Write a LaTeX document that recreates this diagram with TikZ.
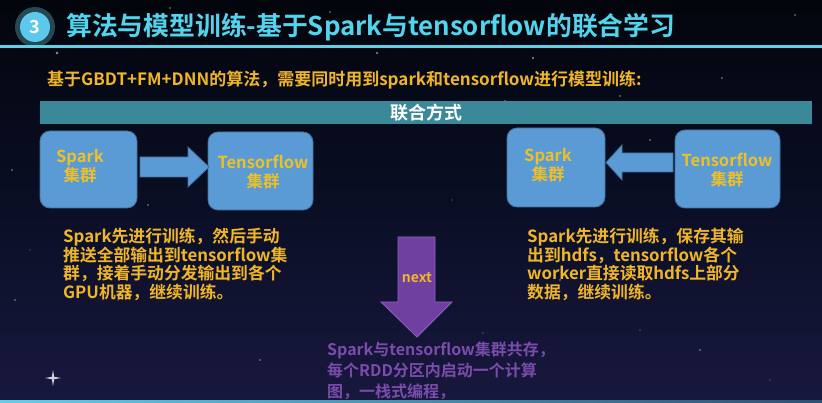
\documentclass[tikz,border=0pt]{standalone}
\usepackage{fontspec}
\setmainfont{Noto Sans CJK SC}[BoldFont={Noto Sans CJK SC Bold}]
\definecolor{bgtop}{RGB}{3,5,12}
\definecolor{bgmid}{RGB}{10,14,36}
\definecolor{bgbot}{RGB}{24,24,62}
\definecolor{titlecyan}{RGB}{82,212,236}
\definecolor{linecyan}{RGB}{96,208,230}
\definecolor{ringteal}{RGB}{38,72,82}
\definecolor{circcyan}{RGB}{92,200,236}
\definecolor{gold}{RGB}{240,182,40}
\definecolor{barteal}{RGB}{58,136,152}
\definecolor{boxblue}{RGB}{91,155,213}
\definecolor{boxedge}{RGB}{65,113,156}
\definecolor{boxyellow}{RGB}{236,192,40}
\definecolor{arrowpurple}{RGB}{112,64,160}
\definecolor{arrowedge}{RGB}{140,96,196}
\definecolor{textpurple}{RGB}{122,76,172}
\tikzset{
  boxnode/.style={draw=boxedge, line width=0.8pt, fill=boxblue, rounded corners=10pt, inner sep=0pt},
  boxtxt/.style={text=boxyellow, font=\bfseries\fontsize{16.5}{19.5}\selectfont, align=center, inner sep=0pt},
  para/.style={text=gold, font=\bfseries\fontsize{16.8}{18.6}\selectfont, align=left, anchor=north west, inner sep=0pt},
  blockarrow/.style={fill=boxblue, draw=boxedge, line width=0.8pt},
  star/.style={fill=white, opacity=0.55},
}
\begin{document}
\begin{tikzpicture}[x=1pt,y=-1pt]
\useasboundingbox (0,0) rectangle (822,403);
% background
\shade[top color=bgtop, bottom color=bgmid] (0,0) rectangle (822,200);
\shade[top color=bgmid, bottom color=bgbot] (0,200) rectangle (822,403);
% stars
\foreach \sx/\sy/\sr in {57/53/1.3, 170/8/0.8, 330/12/0.8, 533/58/1.2, 505/101/0.9, 620/96/0.8, 722/78/0.9, 377/53/1.1, 650/140/0.8, 12/170/0.9, 148/205/0.8, 452/200/0.7, 15/300/0.8, 118/300/0.7, 560/280/0.8, 640/330/0.7, 700/350/0.8, 770/380/0.7, 260/360/0.8, 250/30/0.7, 795/15/0.8, 483/333/0.7, 30/250/0.7}
  \fill[star] (\sx,\sy) circle (\sr);
\fill[white, opacity=0.8] (53,370) -- (54.2,376.8) -- (61,378) -- (54.2,379.2) -- (53,386) -- (51.8,379.2) -- (45,378) -- (51.8,376.8) -- cycle;
% title
\node[circle, fill=ringteal, minimum size=40pt, inner sep=0pt] (ring) at (35,27) {};
\node[circle, fill=circcyan, minimum size=30pt, inner sep=0pt, text=white, font=\bfseries\fontsize{18}{20}\selectfont] (num) at (ring.center) {3};
\node[anchor=west, inner sep=0pt, text=titlecyan, font=\bfseries\fontsize{25.8}{28}\selectfont] (title) at (66,27) {算法与模型训练-基于Spark与tensorflow的联合学习};
\fill[linecyan] (0,45.5) rectangle (822,48.5);
% subtitle
\node[anchor=west, inner sep=0pt, text=gold, font=\bfseries\fontsize{17}{19}\selectfont] (sub) at (47,80.5) {基于GBDT+FM+DNN的算法，需要同时用到spark和tensorflow进行模型训练:};
% bar
\node[fill=barteal, minimum width=772pt, minimum height=23pt, inner sep=0pt, anchor=north west, text=white, font=\bfseries\fontsize{18}{20}\selectfont] (bar) at (40,101) {联合方式};
% left boxes
\node[boxnode, minimum width=97pt, minimum height=77pt] (sparkL) at (88.5,169.5) {};
\node[boxtxt] (sparkLt) at (80,166) {Spark\\集群};
\node[boxnode, minimum width=105pt, minimum height=78pt] (tfL) at (260.5,171) {};
\node[boxtxt] (tfLt) at (263,172) {Tensorflow\\集群};
\draw[blockarrow] (140,157) -- (188,157) -- (188,147) -- (209,167) -- (188,187) -- (188,177) -- (140,177) -- cycle;
% right boxes
\node[boxnode, minimum width=98pt, minimum height=79pt] (sparkR) at (556,167.5) {};
\node[boxtxt] (sparkRt) at (548,165) {Spark\\集群};
\node[boxnode, minimum width=105pt, minimum height=78pt] (tfR) at (727.5,169) {};
\node[boxtxt] (tfRt) at (727,170) {Tensorflow\\集群};
\draw[blockarrow] (673,153) -- (622,153) -- (622,145) -- (606,162.5) -- (622,180) -- (622,172) -- (673,172) -- cycle;
% paragraphs
\node[para] (pL) at (63,228) {Spark先进行训练，然后手动\\推送全部输出到tensorflow集\\群，接着手动分发输出到各个\\GPU机器，继续训练。};
\node[para] (pR) at (527,228) {Spark先进行训练，保存其输\\出到hdfs，tensorflow各个\\worker直接读取hdfs上部分\\数据，继续训练。};
% purple arrow
\draw[fill=arrowpurple, draw=arrowedge, line width=0.8pt] (398,237) -- (435,237) -- (435,302) -- (452,302) -- (417,337) -- (381,302) -- (398,302) -- cycle;
\node[text=gold, font=\bfseries\fontsize{14}{16}\selectfont, inner sep=0pt] (next) at (417,278) {next};
% bottom text
\node[para, text=textpurple, font=\bfseries\fontsize{16}{20.8}\selectfont] (pB) at (327,342) {Spark与tensorflow集群共存，\\每个RDD分区内启动一个计算\\图，一栈式编程，};
% bottom line
\shade[left color=linecyan, right color=linecyan!30!bgbot] (0,400.5) rectangle (822,403);
\end{tikzpicture}
\end{document}
